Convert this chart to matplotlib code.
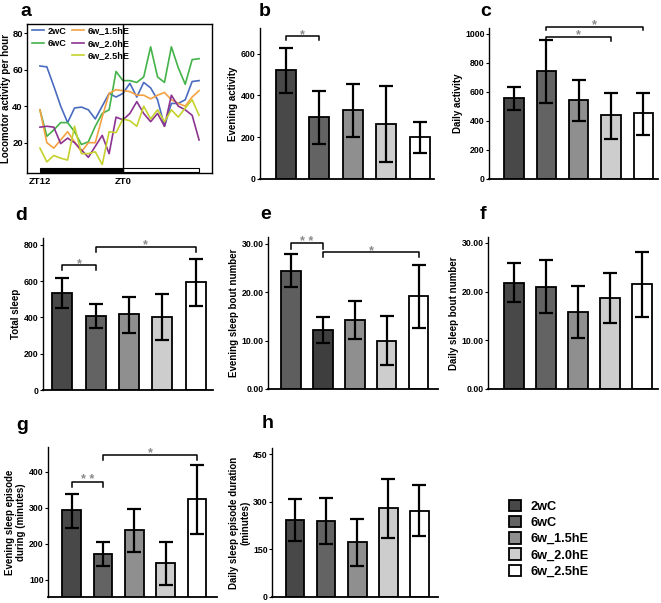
import matplotlib
matplotlib.use("Agg")
import matplotlib.pyplot as plt
from matplotlib.lines import Line2D
from matplotlib.patches import Patch, Rectangle
import numpy as np

plt.rcParams['font.family'] = ['Liberation Sans', 'DejaVu Sans']
plt.rcParams['font.weight'] = 'bold'

W, H = 661, 603

groups = ['2wC', '6wC', '6w_1.5hE', '6w_2.0hE', '6w_2.5hE']

# ---- panel a: hourly locomotor activity (ZT12 -> ZT11) ----
hours = list(range(24))
act_2wC = [62, 61.5, 51, 40, 31, 39, 39.5, 38, 33, 40, 47, 45, 47, 52.5, 45, 53, 50, 43.5, 29, 41.5, 41.5, 43.5, 53.5, 54]
act_6wC = [38, 23.5, 27, 31, 31, 26, 19, 20.5, 29, 36, 38, 59, 54, 54, 53, 56, 72.5, 56, 53, 72.5, 61, 52, 65.5, 66]
act_15 = [38, 20, 17, 21.5, 26, 20.5, 15, 20, 20, 34, 47, 49, 48.5, 48, 46, 46, 44, 46, 47.5, 43.5, 41.5, 40, 45, 48.5]
act_20 = [28.5, 29, 28.5, 19.5, 22.5, 20, 16, 12, 18, 24, 14, 34, 32.5, 36, 42.5, 36, 31.5, 36, 29, 46, 40, 38, 35, 21.5]
act_25 = [17, 9.5, 13, 11.5, 10.5, 29, 14, 14, 15, 8, 26, 25.5, 33, 32, 29, 40, 33, 38, 31.5, 38, 34, 39, 43.5, 35]
line_colors = ['#4a6cbf', '#43b34a', '#f5a142', '#8c3391', '#c5d22e']
night_span = (0, 12)
day_span = (12, 23)
xtick_pos = [0, 12]
xtick_lab = ['ZT12', 'ZT0']

# ---- bar panels: mean, upper error, lower error ----
b_mean = [521, 296, 328, 262, 203]
b_hi = [627, 422, 453, 443, 275]
b_lo = [411, 168, 203, 82, 126]

c_mean = [554, 740, 545, 437, 451]
c_hi = [632, 954, 680, 591, 591]
c_lo = [476, 524, 402, 276, 306]

d_mean = [536, 405, 416, 400, 593]
d_hi = [618, 473, 513, 528, 723]
d_lo = [451, 339, 315, 273, 463]

e_mean = [24.4, 12.1, 14.3, 10.0, 19.2]
e_hi = [27.8, 14.8, 18.2, 15.0, 25.7]
e_lo = [21.0, 9.5, 10.3, 4.9, 12.5]

f_mean = [21.8, 21.0, 15.9, 18.7, 21.5]
f_hi = [25.8, 26.5, 21.2, 23.9, 28.2]
f_lo = [17.8, 15.5, 10.5, 13.5, 14.8]

g_mean = [292, 172, 238, 146, 323]
g_hi = [339, 205, 296, 205, 418]
g_lo = [243, 139, 178, 85, 228]

h_mean = [243, 240, 175, 281, 271]
h_hi = [308, 311, 246, 372, 353]
h_lo = [178, 168, 99, 187, 191]

bar_colors = ['#484848', '#636363', '#8f8f8f', '#cdcdcd', '#ffffff']
e_colors = ['#5e5e5e', '#3e3e3e', '#8f8f8f', '#cdcdcd', '#ffffff']

fig = plt.figure(figsize=(W / 100, H / 100), dpi=100)


def rect(x0, y0, x1, y1):
    return [x0 / W, 1 - y1 / H, (x1 - x0) / W, (y1 - y0) / H]


TICK_FS = 6.3
LAB_FS = 7.0

# ---------- panel a ----------
ax = fig.add_axes(rect(27, 24, 212, 173))
series = [act_2wC, act_6wC, act_15, act_20, act_25]
for s, col, lab in zip(series, line_colors, groups):
    ax.plot(hours, s, color=col, lw=1.2, label=lab)
ax.axvline(12, color='black', lw=1.0)
ax.set_xlim(-1.87, 24.87)
ax.set_ylim(3.4, 85)
ax.add_patch(Rectangle((night_span[0], 4.1), night_span[1] - night_span[0], 1.9,
                       facecolor='black', edgecolor='black', lw=0.8))
ax.add_patch(Rectangle((day_span[0], 4.1), day_span[1] - day_span[0], 1.9,
                       facecolor='white', edgecolor='black', lw=0.8))
ax.set_yticks([20, 40, 60, 80])
ax.set_xticks(xtick_pos)
ax.set_xticklabels(xtick_lab)
ax.tick_params(axis='y', labelsize=TICK_FS + 0.5, length=2, width=0.8, pad=1)
ax.tick_params(axis='x', labelsize=TICK_FS + 0.5, length=0, pad=3)
for lbl in ax.get_yticklabels() + ax.get_xticklabels():
    lbl.set_fontweight('bold')
ax.set_ylabel('Locomotor activity per hour', fontsize=7.0, fontweight='bold', labelpad=1)
for sp in ax.spines.values():
    sp.set_linewidth(1.0)
handles, labels = ax.get_legend_handles_labels()
blank = Line2D([], [], color='none')
hl = [handles[0], handles[1], blank, handles[2], handles[3], handles[4]]
ll = [labels[0], labels[1], '', labels[2], labels[3], labels[4]]
ax.legend(hl, ll, ncol=2, loc='upper left', bbox_to_anchor=(0.0, 1.02), frameon=False,
          prop={'size': 6.6, 'weight': 'bold'}, handlelength=1.3, handletextpad=0.4,
          columnspacing=0.6, labelspacing=0.35, borderaxespad=0.2)
fig.text(20 / W, 1 - 16 / H, 'a', fontsize=14, fontweight='bold')


def bar_panel(box, mean, hi, lo, ylim, ticks, fmt, ylabel, xlim, colors, brackets, letter, lpos):
    ax = fig.add_axes(rect(*box))
    x = np.arange(len(mean))
    m = np.array(mean)
    yerr = np.vstack([m - np.array(lo), np.array(hi) - m])
    ax.bar(x, m, width=0.6, color=colors, edgecolor='black', linewidth=1.3, zorder=2)
    ax.errorbar(x, m, yerr=yerr, fmt='none', ecolor='black', elinewidth=1.6,
                capsize=5, capthick=1.6, zorder=3)
    ax.set_xlim(*xlim)
    ax.set_ylim(*ylim)
    ax.set_yticks(ticks)
    ax.set_yticklabels([fmt.format(t) for t in ticks], fontweight='bold')
    ax.set_xticks([])
    ax.tick_params(axis='y', labelsize=TICK_FS, length=2, width=0.8, pad=1)
    for s in ['top', 'right']:
        ax.spines[s].set_visible(False)
    ax.spines['left'].set_linewidth(1.0)
    ax.spines['bottom'].set_linewidth(1.3)
    ax.set_ylabel(ylabel, fontsize=LAB_FS, fontweight='bold', labelpad=2)
    for (i, j, y, drop, txt) in brackets:
        ax.plot([i, i, j, j], [drop, y, y, drop], color='black', lw=1.1,
                clip_on=False, zorder=4)
        ax.annotate(txt, xy=((i + j) / 2, y), xytext=(0, -3.2), textcoords='offset points',
                    ha='center', va='bottom', fontsize=9, color='#8a8a8a',
                    annotation_clip=False, zorder=5)
    fig.text(lpos[0] / W, 1 - lpos[1] / H, letter, fontsize=14, fontweight='bold')
    return ax


bar_panel((260, 28, 434, 179), b_mean, b_hi, b_lo, (0, 723), [0, 200, 400, 600], '{:d}',
          'Evening activity', (-0.77, 4.42), bar_colors, [(0, 1, 683, 664, '*')], 'b', (259, 16))
bar_panel((489, 28, 658, 179), c_mean, c_hi, c_lo, (0, 1039), [0, 200, 400, 600, 800, 1000], '{:d}',
          'Daily activity', (-0.77, 4.45), bar_colors,
          [(1, 4, 1048, 1023, '*'), (1, 3, 977, 947, '*')], 'c', (480, 16))
bar_panel((43, 238, 213, 390), d_mean, d_hi, d_lo, (0, 837), [0, 200, 400, 600, 800], '{:d}',
          'Total sleep', (-0.58, 4.52), bar_colors,
          [(0, 1, 686, 661, '*'), (1, 4, 787, 762, '*')], 'd', (15, 220))
bar_panel((268, 237, 438, 389), e_mean, e_hi, e_lo, (0, 31.4), [0, 10, 20, 30], '{:.2f}',
          'Evening sleep bout number', (-0.72, 4.6), e_colors,
          [(0, 1, 30.1, 29.0, '* *'), (1, 4, 28.2, 27.2, '*')], 'e', (260, 219))
bar_panel((488, 237, 658, 389), f_mean, f_hi, f_lo, (0, 31.2), [0, 10, 20, 30], '{:.2f}',
          'Daily sleep bout number', (-0.81, 4.5), bar_colors, [], 'f', (480, 219))
bar_panel((48, 447, 217, 597), g_mean, g_hi, g_lo, (52, 468), [100, 200, 300, 400], '{:d}',
          'Evening sleep episode\nduring (minutes)', (-0.76, 4.64), bar_colors,
          [(0, 1, 372, 357, '* *'), (1, 4, 447, 433, '*')], 'g', (16, 430))
bar_panel((272, 448, 438, 597), h_mean, h_hi, h_lo, (0, 470), [0, 150, 300, 450], '{:d}',
          'Daily sleep episode duration\n(minutes)', (-0.74, 4.6), bar_colors, [], 'h', (262, 428))

# ---- group legend ----
lh = [Patch(facecolor=c, edgecolor='black', linewidth=1.3) for c in bar_colors]
fig.legend(lh, groups, loc='upper left', bbox_to_anchor=(497 / W, 1 - 488 / H), frameon=False,
           prop={'size': 9.2, 'weight': 'bold'}, handlelength=1.0, handleheight=1.0,
           handletextpad=0.7, labelspacing=0.25)

fig.savefig('out.png', dpi=100)
